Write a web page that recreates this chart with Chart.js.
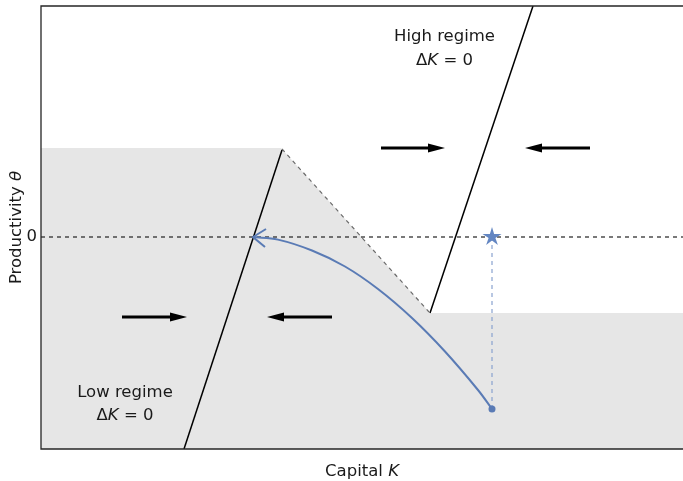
<!DOCTYPE html>
<html>
<head>
<meta charset="utf-8">
<script src="https://cdn.jsdelivr.net/npm/chart.js@4.4.1/dist/chart.umd.min.js"></script>
<style>
  html, body { margin: 0; padding: 0; background: #fff; }
  canvas { display: block; }
</style>
</head>
<body>
<canvas id="myChart" width="683" height="481"></canvas>
<script>
// axis ranges (capital K, productivity theta)
const xRange = [0, 6.42];
const yRange = [-2.12, 2.31];
const yTicks = [0];

// shaded region: upper boundary, filled down to the bottom
const shadeK = [0, 2.40, 3.89, 6.42];
const shadeTheta = [0.89, 0.89, -0.76, -0.76];

// dashed edge of the shaded region
const edgeK = [2.41, 3.88];
const edgeTheta = [0.88, -0.75];

// delta K = 0 loci
const lowK = [1.43, 2.41];
const lowTheta = [-2.12, 0.87];
const highK = [3.89, 4.92];
const highTheta = [-0.76, 2.31];

// theta = 0 reference line
const zeroK = [0, 6.42];
const zeroTheta = [0, 0];

// transition path (from the arrow tip out to the starting point) and its open head
const pathK = [2.12, 2.37, 2.71, 3.04, 3.37, 3.71, 4.04, 4.37, 4.51];
const pathTheta = [0, -0.026, -0.135, -0.295, -0.52, -0.81, -1.145, -1.53, -1.72];
const headK = [2.25, 2.12, 2.24];
const headTheta = [0.08, 0, -0.10];

// starting point and the high steady state
const startK = 4.51, startTheta = -1.72;
const starK = 4.51, starTheta = 0;

// direction arrows: shaft start -> shaft end (head sits beyond the end)
const arrowFrom = [[3.40, 0.89], [5.49, 0.89], [0.81, -0.80], [2.91, -0.80]];
const arrowTo = [[3.87, 0.89], [5.01, 0.89], [1.29, -0.80], [2.43, -0.80]];

const BLUE = '#5a7bb5';
const FONT = '"DejaVu Sans", sans-serif';
const SIZE = 16.5;

const pts = (xs, ys) => xs.map((x, i) => ({ x, y: ys[i] }));

function arrowHead() {
  const c = document.createElement('canvas');
  c.width = 34;
  c.height = 10;
  const g = c.getContext('2d');
  g.fillStyle = '#000';
  g.beginPath();
  g.moveTo(17, 0.5);
  g.lineTo(34, 5);
  g.lineTo(17, 9.5);
  g.closePath();
  g.fill();
  return c;
}

function starImage() {
  const c = document.createElement('canvas');
  c.width = 22;
  c.height = 22;
  const g = c.getContext('2d');
  g.fillStyle = '#6386c2';
  g.beginPath();
  for (let i = 0; i < 10; i++) {
    const r = i % 2 ? 3.6 : 10;
    const a = -Math.PI / 2 + i * Math.PI / 5;
    g.lineTo(11 + r * Math.cos(a), 11 + r * Math.sin(a));
  }
  g.closePath();
  g.fill();
  return c;
}

const head = arrowHead();

const plainLine = (data, color, width, dash, order) => ({
  data,
  borderColor: color,
  borderWidth: width,
  borderDash: dash || [],
  pointRadius: 0,
  fill: false,
  tension: 0,
  order
});

const datasets = [
  {
    data: pts(shadeK, shadeTheta),
    borderWidth: 0,
    borderColor: 'rgba(0,0,0,0)',
    backgroundColor: '#e6e6e6',
    fill: 'start',
    pointRadius: 0,
    order: 20
  },
  plainLine(pts(edgeK, edgeTheta), '#6b6b6b', 1.2, [4, 4], 10),
  plainLine(pts(zeroK, zeroTheta), '#222', 1.2, [4, 4], 9),
  plainLine(pts(lowK, lowTheta), '#000', 1.5, null, 8),
  plainLine(pts(highK, highTheta), '#000', 1.5, null, 8),
  plainLine(pts([starK, startK], [starTheta, startTheta]), '#8aa3d0', 1.2, [4, 4], 7),
  {
    data: pts(pathK, pathTheta),
    borderColor: BLUE,
    borderWidth: 2,
    pointRadius: 0,
    fill: false,
    tension: 0.35,
    order: 5
  },
  plainLine(pts(headK, headTheta), BLUE, 2, null, 5),
  {
    data: [{ x: startK, y: startTheta }],
    showLine: false,
    pointRadius: 3.5,
    pointBackgroundColor: BLUE,
    pointBorderWidth: 0,
    order: 4
  },
  {
    data: [{ x: starK, y: starTheta }],
    showLine: false,
    pointStyle: starImage(),
    pointRadius: 9,
    order: 3
  }
];

arrowFrom.forEach((from, i) => {
  const to = arrowTo[i];
  datasets.push({
    data: [{ x: from[0], y: from[1] }, { x: to[0], y: to[1] }],
    borderColor: '#000',
    borderWidth: 3,
    borderCapStyle: 'butt',
    fill: false,
    tension: 0,
    pointRadius: [0, 8],
    pointStyle: [false, head],
    pointRotation: to[0] < from[0] ? 180 : 0,
    order: 2
  });
});

// text placed in data coordinates; runs with i:true are italic
const notes = [
  { x: 4.035, y: 1.96, runs: [{ t: 'High regime' }] },
  { x: 4.035, y: 1.72, runs: [{ t: 'Δ' }, { t: 'K', i: true }, { t: ' = 0' }] },
  { x: 0.84, y: -1.60, runs: [{ t: 'Low regime' }] },
  { x: 0.84, y: -1.83, runs: [{ t: 'Δ' }, { t: 'K', i: true }, { t: ' = 0' }] }
];
const xTitle = [{ t: 'Capital ' }, { t: 'K', i: true }];
const yTitle = [{ t: 'Productivity ' }, { t: 'θ', i: true }];

function drawRuns(ctx, runs, cx, baseline) {
  const fontOf = r => (r.i ? 'italic ' : '') + SIZE + 'px ' + FONT;
  let total = 0;
  runs.forEach(r => {
    ctx.font = fontOf(r);
    total += ctx.measureText(r.t).width;
  });
  let x = cx - total / 2;
  runs.forEach(r => {
    ctx.font = fontOf(r);
    ctx.fillText(r.t, x, baseline);
    x += ctx.measureText(r.t).width;
  });
}

const decorations = {
  id: 'decorations',
  afterDraw(chart) {
    const { ctx, chartArea, scales } = chart;
    ctx.save();

    ctx.strokeStyle = '#262626';
    ctx.lineWidth = 1.3;
    ctx.beginPath();
    ctx.moveTo(chartArea.right + 2, chartArea.top);
    ctx.lineTo(chartArea.left, chartArea.top);
    ctx.lineTo(chartArea.left, chartArea.bottom);
    ctx.lineTo(chartArea.right + 2, chartArea.bottom);
    ctx.stroke();

    ctx.fillStyle = '#1a1a1a';
    ctx.textBaseline = 'alphabetic';
    notes.forEach(n => {
      drawRuns(ctx, n.runs, scales.x.getPixelForValue(n.x), scales.y.getPixelForValue(n.y));
    });

    drawRuns(ctx, xTitle, (chartArea.left + chartArea.right) / 2, chartArea.bottom + 27);

    ctx.translate(21, (chartArea.top + chartArea.bottom) / 2);
    ctx.rotate(-Math.PI / 2);
    drawRuns(ctx, yTitle, 0, 0);

    ctx.restore();
  }
};

const ctx = document.getElementById('myChart').getContext('2d');

const chart = new Chart(ctx, {
  type: 'line',
  data: { datasets },
  options: {
    responsive: false,
    animation: false,
    layout: { autoPadding: false, padding: { top: 6, right: 0, left: 0, bottom: 0 } },
    plugins: {
      legend: { display: false },
      tooltip: { enabled: false }
    },
    scales: {
      x: {
        type: 'linear',
        min: xRange[0],
        max: xRange[1],
        grid: { display: false, drawTicks: false },
        border: { display: false },
        ticks: { display: false },
        afterFit: scale => {
          scale.height = 32;
          scale.paddingLeft = 0;
          scale.paddingRight = 0;
        }
      },
      y: {
        type: 'linear',
        min: yRange[0],
        max: yRange[1],
        grid: { display: false, drawTicks: false },
        border: { display: false },
        afterBuildTicks: scale => { scale.ticks = yTicks.map(value => ({ value })); },
        ticks: {
          padding: 4,
          color: '#1a1a1a',
          font: { family: FONT, size: SIZE }
        },
        afterFit: scale => {
          scale.width = 41;
          scale.paddingTop = 0;
          scale.paddingBottom = 0;
        }
      }
    }
  },
  plugins: [decorations]
});
</script>
</body>
</html>
